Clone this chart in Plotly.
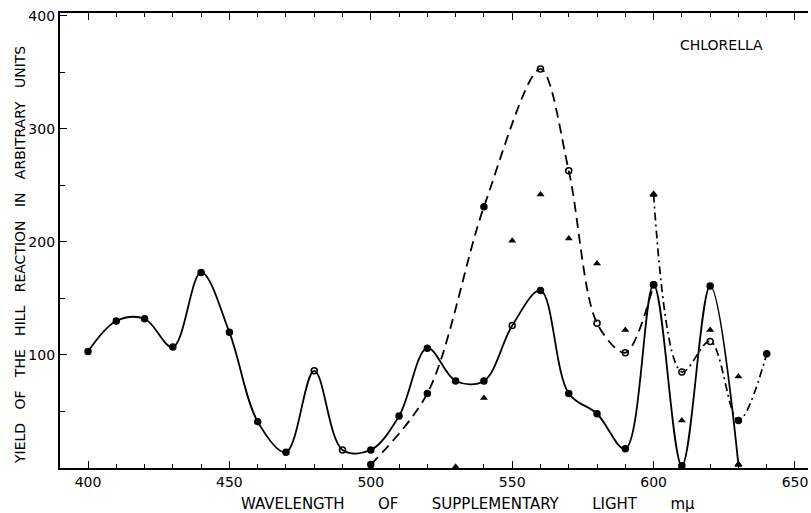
import plotly.graph_objects as go

# Hill reaction yield of Chlorella vs. wavelength of supplementary light
wl_control = [400, 410, 420, 430, 440, 450, 460, 470, 480, 490, 500, 510,
              520, 530, 540, 550, 560, 570, 580, 590, 600, 610, 620, 630]
yield_control = [103, 130, 132, 107, 173, 120, 41, 14, 86, 16, 16, 46,
                 106, 77, 77, 126, 157, 66, 48, 17, 162, 2, 161, 3]
sym_control = ["circle"] * 8 + ["circle-open", "circle-open"] + ["circle"] * 5 + \
              ["circle-open"] + ["circle"] * 7 + ["triangle-up"]

wl_dashed = [500, 520, 540, 560, 570, 580, 590, 600]
yield_dashed = [3, 66, 231, 353, 263, 128, 102, 162]
sym_dashed = ["circle", "circle", "circle", "circle-open", "circle-open",
              "circle-open", "circle-open", "circle"]

wl_dashdot = [600, 610, 620, 630, 640]
yield_dashdot = [242, 85, 112, 42, 101]
sym_dashdot = ["triangle-up", "circle-open", "circle-open", "circle", "circle"]

wl_tri = [530, 540, 550, 560, 570, 580, 590, 610, 620, 630]
yield_tri = [1, 62, 201, 242, 203, 181, 122, 42, 122, 81]

x_ticks = [400, 450, 500, 550, 600, 650]
y_ticks = [100, 200, 300, 400]

FONT = "DejaVu Sans"
INK = "black"

fig = go.Figure()

fig.add_trace(go.Scatter(
    x=wl_control, y=yield_control, mode="lines+markers",
    line=dict(color=INK, width=1.8, shape="spline", smoothing=1.0),
    marker=dict(symbol=sym_control, size=6, color=INK,
                line=dict(color=INK, width=1.5)),
    showlegend=False, cliponaxis=True))

fig.add_trace(go.Scatter(
    x=wl_dashed, y=yield_dashed, mode="lines+markers",
    line=dict(color=INK, width=1.8, shape="spline", smoothing=0.9,
              dash="10px,6px"),
    marker=dict(symbol=sym_dashed, size=6, color=INK,
                line=dict(color=INK, width=1.5)),
    showlegend=False))

fig.add_trace(go.Scatter(
    x=wl_dashdot, y=yield_dashdot, mode="lines+markers",
    line=dict(color=INK, width=1.7, shape="spline", smoothing=1.0,
              dash="8px,4px,2px,4px"),
    marker=dict(symbol=sym_dashdot, size=6, color=INK,
                line=dict(color=INK, width=1.5)),
    showlegend=False))

fig.add_trace(go.Scatter(
    x=wl_tri, y=yield_tri, mode="markers",
    marker=dict(symbol="triangle-up", size=7, color=INK),
    showlegend=False))

fig.update_xaxes(
    range=[390.1, 654.6], tickvals=x_ticks, ticktext=[str(v) for v in x_ticks],
    ticks="inside", ticklen=7, tickwidth=1.4, tickcolor=INK,
    minor=dict(dtick=10, tick0=400, ticks="inside", ticklen=4,
               tickwidth=1.3, tickcolor=INK, showgrid=False),
    showline=True, linecolor=INK, linewidth=1.8, mirror="ticks",
    showgrid=False, zeroline=False,
    tickfont=dict(family=FONT, size=14, color=INK))

fig.update_yaxes(
    range=[0, 402.5], tickvals=y_ticks, ticktext=[str(v) for v in y_ticks],
    ticks="inside", ticklen=7, tickwidth=1.4, tickcolor=INK,
    minor=dict(tickvals=[50, 150, 250, 350], ticks="inside", ticklen=5,
               tickwidth=1.3, tickcolor=INK, showgrid=False),
    showline=True, linecolor=INK, linewidth=2.2, mirror=False,
    showgrid=False, zeroline=False,
    tickfont=dict(family=FONT, size=14, color=INK))

gap = "\u00a0" * 7
fig.add_annotation(
    text="WAVELENGTH" + gap + "OF" + gap + "SUPPLEMENTARY" + gap + "LIGHT" + gap + "m\u03bc",
    xref="paper", yref="paper", x=0.5455, y=-0.079,
    xanchor="center", yanchor="middle", showarrow=False,
    font=dict(family=FONT, size=15, color=INK))

wgap = "\u00a0" * 3
fig.add_annotation(
    text=wgap.join(["YIELD", "OF", "THE", "HILL", "REACTION", "IN", "ARBITRARY", "UNITS"]),
    xref="paper", yref="paper", x=-0.0535, y=0.468, textangle=-90,
    xanchor="center", yanchor="middle", showarrow=False,
    font=dict(family=FONT, size=14, color=INK))

fig.add_annotation(
    text="CHLORELLA", xref="paper", yref="paper", x=0.8837, y=0.9297,
    xanchor="center", yanchor="middle", showarrow=False,
    font=dict(family=FONT, size=14, color=INK))

fig.update_layout(
    width=811, height=513,
    margin=dict(l=60, r=3, t=13, b=45),
    paper_bgcolor="white", plot_bgcolor="white")

fig.write_html("out.html")
